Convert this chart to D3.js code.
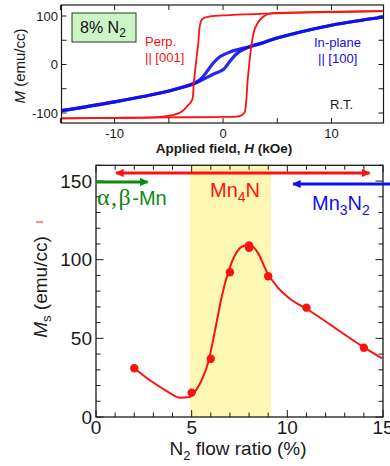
<!DOCTYPE html>
<html>
<head>
<meta charset="utf-8">
<script src="https://cdn.jsdelivr.net/npm/d3@7"></script>
<style>
  html, body { margin: 0; padding: 0; background: #fff; }
  svg { display: block; font-family: "Liberation Sans", Arial, sans-serif; }
</style>
</head>
<body>
<div id="chart"></div>
<script>
// ---- top panel: M-H loops (H in kOe, M in emu/cc) ----
const perpDescending = [[14.8, 110], [10, 108], [4, 105], [0.6, 102], [-1.2, 99], [-1.95, 93], [-2.3, 40],
  [-2.7, -39], [-2.85, -73], [-3.3, -86], [-3.8, -97], [-4.4, -103], [-5.8, -108], [-10, -110], [-14.9, -111]];
const perpAscending = [[-14.9, -111], [-10, -110], [-5, -109], [0, -108], [1.6, -106], [1.95, -100], [2.05, -94],
  [2.3, -25], [2.65, 44], [2.95, 75], [3.4, 92], [3.8, 100], [4.3, 105], [8, 108], [14.8, 110]];
const inplaneDescending = [[14.8, 98], [10, 81], [4.9, 54], [3.7, 45], [2.5, 37], [1.4, 31], [0.65, 26],
  [-0.3, 16], [-0.9, 3], [-1.5, -15], [-2.1, -31], [-2.7, -39], [-3.9, -48], [-4.9, -54], [-10, -77], [-14.9, -95]];
const inplaneAscending = [[-14.9, -95], [-10, -77], [-4.9, -54], [-3.9, -48], [-2.4, -37], [-1.6, -28],
  [-0.9, -20], [0, -11], [0.65, 7], [1.4, 25], [2.5, 37], [3.7, 45], [4.9, 54], [10, 81], [14.8, 98]];
const topXTicks = [-15, -10, -5, 0, 5, 10];
const topXLabels = [-10, 0, 10];
const topYTicks = [-100, -50, 0, 50, 100];
const topYLabels = [-100, 0, 100];

// ---- bottom panel: Ms vs N2 flow ratio ----
const flowRatio = [2, 5, 6, 7, 8, 8, 9, 11, 14];
const msValue = [31, 15.5, 37, 92, 109, 107.5, 89.5, 69.5, 44];
// smooth guide curve drawn in the figure
const fitX = [2, 2.8, 3.7, 4.4, 4.82, 5.17, 5.6, 5.87, 6.22, 6.57, 6.92, 7.27, 7.7, 8.05, 8.48, 8.92, 9.45, 10.1, 11, 14, 14.95];
const fitY = [31, 23.5, 16.5, 12.2, 12.5, 16, 25.6, 35, 55, 76.5, 92.4, 103, 108.7, 109.3, 104, 92.4, 83, 75.5, 68.8, 44.3, 37.3];
const mn4nBand = [4.9, 9.15];
const phaseArrowMn4N = [1.05, 14.3];
const phaseArrowMn = [0, 2.7];
const phaseArrowMn3N2 = [10.3, 15.4];
const botXTicks = d3.range(0, 16, 1);
const botXLabels = [0, 5, 10, 15];
const botYTicks = d3.range(0, 161, 10);
const botYLabels = [0, 50, 100, 150];

const W = 390, H = 466;
const red = '#ff1010', blue = '#1010ee', green = '#118811', ink = '#1a1a1a';

const svg = d3.select('#chart').append('svg')
  .attr('width', W).attr('height', H).attr('viewBox', `0 0 ${W} ${H}`);

const defs = svg.append('defs');
function marker(id, color) {
  defs.append('marker')
    .attr('id', id).attr('viewBox', '0 0 10 10')
    .attr('refX', 9).attr('refY', 5)
    .attr('markerWidth', 3.4).attr('markerHeight', 2.8)
    .attr('markerUnits', 'strokeWidth')
    .attr('orient', 'auto-start-reverse')
    .append('path').attr('d', 'M0,0 L10,5 L0,10 z').attr('fill', color);
}
marker('arR', red); marker('arG', green); marker('arB', blue);

// ================= TOP PANEL =================
const t = { left: 61.5, right: 383.5, top: 5, bottom: 123 };
const tx = d3.scaleLinear().domain([-14.9, 14.8]).range([t.left, t.right]);
const ty = d3.scaleLinear().domain([-120.6, 122.7]).range([t.bottom, t.top]);

const gt = svg.append('g');

const loopLine = d3.line().x(d => tx(d[0])).y(d => ty(d[1])).curve(d3.curveCatmullRom.alpha(0.5));

gt.append('path').datum(inplaneDescending).attr('d', loopLine)
  .attr('fill', 'none').attr('stroke', blue).attr('stroke-width', 3.2).attr('stroke-opacity', 0.9);
gt.append('path').datum(inplaneAscending).attr('d', loopLine)
  .attr('fill', 'none').attr('stroke', blue).attr('stroke-width', 3.2).attr('stroke-opacity', 0.9);
gt.append('path').datum(perpDescending).attr('d', loopLine)
  .attr('fill', 'none').attr('stroke', red).attr('stroke-width', 1.8);
gt.append('path').datum(perpAscending).attr('d', loopLine)
  .attr('fill', 'none').attr('stroke', red).attr('stroke-width', 1.8);

// frame + inward ticks
gt.append('rect').attr('x', t.left).attr('y', t.top)
  .attr('width', t.right - t.left).attr('height', t.bottom - t.top)
  .attr('fill', 'none').attr('stroke', ink).attr('stroke-width', 1.2);

const tickLen = 5;
topXTicks.forEach(v => {
  gt.append('line').attr('x1', tx(v)).attr('x2', tx(v)).attr('y1', t.bottom).attr('y2', t.bottom - tickLen).attr('stroke', ink);
  gt.append('line').attr('x1', tx(v)).attr('x2', tx(v)).attr('y1', t.top).attr('y2', t.top + tickLen).attr('stroke', ink);
});
topYTicks.forEach(v => {
  gt.append('line').attr('x1', t.left).attr('x2', t.left + tickLen).attr('y1', ty(v)).attr('y2', ty(v)).attr('stroke', ink);
  gt.append('line').attr('x1', t.right).attr('x2', t.right - tickLen).attr('y1', ty(v)).attr('y2', ty(v)).attr('stroke', ink);
});

gt.selectAll('text.xl').data(topXLabels).join('text').attr('class', 'xl')
  .attr('x', d => tx(d)).attr('y', 138).attr('text-anchor', 'middle')
  .attr('font-size', 13).attr('fill', ink).text(d => d);
gt.selectAll('text.yl').data(topYLabels).join('text').attr('class', 'yl')
  .attr('x', 58).attr('y', d => ty(d)).attr('dy', '0.35em').attr('text-anchor', 'end')
  .attr('font-size', 13).attr('fill', ink).text(d => d);

const xt = gt.append('text').attr('x', 224).attr('y', 153).attr('text-anchor', 'middle')
  .attr('font-size', 13.5).attr('font-weight', 'bold').attr('fill', ink);
xt.append('tspan').text('Applied field, ');
xt.append('tspan').attr('font-style', 'italic').text('H');
xt.append('tspan').text(' (kOe)');

const yt = gt.append('text').attr('transform', `translate(25,${(t.top + t.bottom) / 2 + 2}) rotate(-90)`)
  .attr('text-anchor', 'middle').attr('font-size', 15).attr('fill', ink);
yt.append('tspan').attr('font-style', 'italic').text('M');
yt.append('tspan').text(' (emu/cc)');

// sample box
gt.append('rect').attr('x', 72).attr('y', 13).attr('width', 64).attr('height', 29)
  .attr('fill', '#ccf5c6').attr('stroke', '#333').attr('stroke-width', 1);
const box = gt.append('text').attr('x', 80).attr('y', 33).attr('font-size', 16).attr('fill', '#111');
box.append('tspan').text('8% N');
box.append('tspan').attr('dy', 4).attr('font-size', 12).text('2');

gt.append('text').attr('x', 145).attr('y', 46).attr('font-size', 13).attr('fill', red).text('Perp.');
gt.append('text').attr('x', 145).attr('y', 62).attr('font-size', 13).attr('fill', red).text('|| [001]');
gt.append('text').attr('x', 314).attr('y', 47).attr('font-size', 13).attr('fill', blue).text('In-plane');
gt.append('text').attr('x', 318).attr('y', 63).attr('font-size', 13).attr('fill', blue).text('|| [100]');
gt.append('text').attr('x', 330).attr('y', 109).attr('font-size', 13).attr('fill', ink).text('R.T.');

// ================= BOTTOM PANEL =================
const b = { left: 96, right: 383, top: 165.3, bottom: 417 };
const bx = d3.scaleLinear().domain([0, 15]).range([b.left, b.right]);
const by = d3.scaleLinear().domain([0, 160]).range([b.bottom, b.top]);
const gb = svg.append('g');

gb.append('rect').attr('x', bx(mn4nBand[0])).attr('y', b.top)
  .attr('width', bx(mn4nBand[1]) - bx(mn4nBand[0])).attr('height', b.bottom - b.top)
  .attr('fill', '#fff8b4');

const fitLine = d3.line().x(d => bx(d[0])).y(d => by(d[1])).curve(d3.curveMonotoneX);
gb.append('path').datum(d3.zip(fitX, fitY)).attr('d', fitLine)
  .attr('fill', 'none').attr('stroke', red).attr('stroke-width', 2);

gb.selectAll('circle.pt').data(d3.zip(flowRatio, msValue)).join('circle').attr('class', 'pt')
  .attr('cx', d => bx(d[0])).attr('cy', d => by(d[1])).attr('r', 4.2).attr('fill', red);

// frame + ticks
gb.append('rect').attr('x', b.left).attr('y', b.top)
  .attr('width', b.right - b.left).attr('height', b.bottom - b.top)
  .attr('fill', 'none').attr('stroke', ink).attr('stroke-width', 1.3);

botXTicks.forEach(v => {
  const len = v % 5 === 0 ? 7 : 4.5;
  gb.append('line').attr('x1', bx(v)).attr('x2', bx(v)).attr('y1', b.bottom).attr('y2', b.bottom - len).attr('stroke', ink);
  gb.append('line').attr('x1', bx(v)).attr('x2', bx(v)).attr('y1', b.top).attr('y2', b.top + len).attr('stroke', ink);
});
botYTicks.forEach(v => {
  const len = v % 50 === 0 ? 7.5 : 4.5;
  gb.append('line').attr('x1', b.left).attr('x2', b.left + len).attr('y1', by(v)).attr('y2', by(v)).attr('stroke', ink);
  gb.append('line').attr('x1', b.right).attr('x2', b.right - len).attr('y1', by(v)).attr('y2', by(v)).attr('stroke', ink);
});

gb.selectAll('text.xl').data(botXLabels).join('text').attr('class', 'xl')
  .attr('x', d => bx(d)).attr('y', 434).attr('text-anchor', 'middle')
  .attr('font-size', 19).attr('fill', ink).text(d => d);
gb.selectAll('text.yl').data(botYLabels).join('text').attr('class', 'yl')
  .attr('x', 92).attr('y', d => by(d)).attr('dy', '0.35em').attr('text-anchor', 'end')
  .attr('font-size', 19).attr('fill', ink).text(d => d);

const bxt = gb.append('text').attr('x', 238).attr('y', 455).attr('text-anchor', 'middle')
  .attr('font-size', 19).attr('fill', ink);
bxt.append('tspan').text('N');
bxt.append('tspan').attr('dy', 5).attr('font-size', 13).text('2');
bxt.append('tspan').attr('dy', -5).text(' flow ratio (%)');

const byt = gb.append('text').attr('transform', `translate(47,287) rotate(-90)`)
  .attr('text-anchor', 'middle').attr('font-size', 19).attr('fill', ink);
byt.append('tspan').attr('font-style', 'italic').text('M');
byt.append('tspan').attr('dy', 4).attr('font-size', 13).text('s');
byt.append('tspan').attr('dy', -4).text(' (emu/cc)');
// stray red tick in the original figure
gb.append('line').attr('x1', 36).attr('x2', 43).attr('y1', 222).attr('y2', 222).attr('stroke', red).attr('stroke-width', 1);

// phase arrows
gb.append('line').attr('x1', bx(phaseArrowMn4N[0])).attr('x2', bx(phaseArrowMn4N[1]))
  .attr('y1', 173).attr('y2', 173).attr('stroke', red).attr('stroke-width', 3)
  .attr('marker-start', 'url(#arR)').attr('marker-end', 'url(#arR)');
gb.append('line').attr('x1', bx(phaseArrowMn[0])).attr('x2', bx(phaseArrowMn[1]))
  .attr('y1', 182).attr('y2', 182).attr('stroke', green).attr('stroke-width', 3)
  .attr('marker-end', 'url(#arG)');
gb.append('line').attr('x1', bx(phaseArrowMn3N2[1])).attr('x2', bx(phaseArrowMn3N2[0]))
  .attr('y1', 184).attr('y2', 184).attr('stroke', blue).attr('stroke-width', 3)
  .attr('marker-end', 'url(#arB)');

const mnText = gb.append('text').attr('x', 97).attr('y', 205).attr('font-size', 20).attr('fill', green);
mnText.append('tspan').attr('font-family', '"Liberation Serif", "Times New Roman", serif')
  .attr('font-size', 24).attr('letter-spacing', 1.5).text('α,β');
mnText.append('tspan').text('-Mn');

const mn4 = gb.append('text').attr('x', 210).attr('y', 197).attr('font-size', 20).attr('fill', red);
mn4.append('tspan').text('Mn');
mn4.append('tspan').attr('dy', 5).attr('font-size', 14).text('4');
mn4.append('tspan').attr('dy', -5).text('N');

const mn3 = gb.append('text').attr('x', 312).attr('y', 210).attr('font-size', 20).attr('fill', blue);
mn3.append('tspan').text('Mn');
mn3.append('tspan').attr('dy', 5).attr('font-size', 14).text('3');
mn3.append('tspan').attr('dy', -5).text('N');
mn3.append('tspan').attr('dy', 5).attr('font-size', 14).text('2');
</script>
</body>
</html>
